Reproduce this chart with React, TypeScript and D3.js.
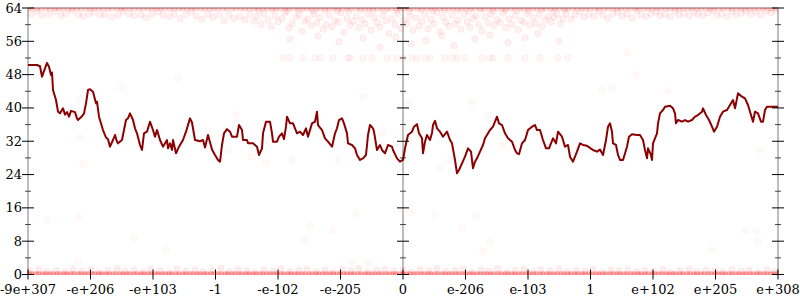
import React from 'react';
import * as d3 from 'd3';

// x positions are in "ordered float index" units: 0..750, 12 equal steps between labels
const xTickLabels = ['-9e+307', '-e+206', '-e+103', '-1', '-e-102', '-e-205', '0', 'e-206', 'e-103', '1', 'e+102', 'e+205', 'e+308'];
const xTickPos = [0, 62.5, 125, 187.5, 250, 312.5, 375, 437.5, 500, 562.5, 625, 687.5, 750];
const yMajorTicks = [0, 8, 16, 24, 32, 40, 48, 56, 64];
const yMinorTicks = [4, 12, 20, 28, 36, 44, 52, 60];

const lineX = [0, 9, 12, 14, 19, 21, 23, 24, 25, 28, 30, 32, 35, 37, 39, 41, 43, 47, 49, 50, 54, 56, 58, 60, 62, 65, 68, 69, 71, 75, 78, 80, 82, 85, 87, 89, 90, 94, 96, 98, 100, 102, 105, 107, 109, 112, 114, 116, 119, 122, 125, 127, 129, 132, 135, 139, 140, 142, 144, 145, 148, 151, 155, 158, 162, 164, 167, 172, 175, 177, 180, 184, 187, 190, 192, 194, 196, 199, 202, 204, 209, 211, 214, 215, 219, 220, 225, 229, 231, 234, 235, 238, 242, 244, 245, 249, 251, 254, 256, 258, 259, 262, 265, 269, 272, 275, 278, 280, 284, 287, 289, 290, 294, 297, 300, 304, 307, 309, 311, 314, 316, 319, 320, 324, 327, 329, 332, 335, 338, 340, 342, 345, 346, 349, 352, 354, 357, 360, 364, 365, 369, 372, 375, 377, 380, 384, 386, 389, 391, 394, 395, 397, 399, 402, 404, 405, 407, 409, 412, 415, 419, 422, 424, 427, 429, 431, 434, 437, 440, 443, 445, 447, 449, 452, 455, 457, 459, 462, 465, 469, 471, 474, 477, 480, 484, 487, 489, 491, 494, 497, 499, 500, 504, 507, 509, 512, 515, 518, 521, 525, 528, 530, 534, 537, 540, 542, 545, 549, 552, 555, 559, 562, 565, 569, 572, 575, 578, 580, 582, 584, 585, 588, 590, 592, 595, 599, 601, 604, 609, 612, 615, 617, 619, 620, 623, 624, 625, 627, 629, 630, 632, 635, 637, 642, 645, 647, 648, 650, 654, 657, 660, 664, 667, 670, 674, 675, 678, 681, 684, 686, 689, 692, 695, 699, 702, 705, 707, 710, 714, 717, 720, 723, 725, 727, 730, 733, 735, 737, 739, 742, 750];
const lineV = [50.3, 50.3, 50.0, 47.5, 50.8, 49.9, 47.9, 48.5, 44.3, 41.9, 39.1, 38.7, 39.9, 38.4, 39.0, 37.9, 39.3, 39.0, 37.5, 37.1, 38.0, 38.7, 41.1, 44.3, 44.5, 43.9, 41.1, 41.5, 37.9, 34.7, 32.9, 32.5, 30.7, 32.3, 33.5, 31.9, 31.5, 32.3, 34.7, 37.1, 37.5, 38.7, 37.1, 35.1, 33.9, 31.1, 29.9, 33.9, 34.3, 36.7, 34.7, 33.1, 34.7, 32.3, 30.7, 32.3, 30.3, 31.5, 29.9, 32.3, 29.1, 30.7, 32.3, 34.3, 37.5, 36.5, 32.3, 32.0, 32.3, 30.5, 33.5, 30.0, 28.7, 27.5, 27.1, 31.1, 33.9, 34.9, 34.3, 33.1, 33.1, 35.9, 34.7, 32.3, 32.3, 31.5, 31.5, 30.7, 28.7, 30.3, 33.9, 36.7, 36.7, 33.9, 31.9, 31.9, 33.1, 33.9, 32.5, 35.5, 37.9, 36.3, 36.3, 33.9, 34.3, 33.5, 35.1, 33.1, 36.3, 36.7, 39.1, 35.9, 34.7, 32.7, 31.9, 30.7, 33.9, 35.1, 37.1, 37.5, 36.3, 33.9, 31.5, 31.1, 30.3, 28.7, 27.5, 27.9, 28.7, 33.5, 35.9, 35.1, 34.3, 29.9, 31.1, 29.9, 29.1, 31.1, 30.7, 29.9, 27.9, 27.1, 27.5, 30.3, 33.5, 34.3, 35.5, 36.1, 33.9, 32.7, 29.1, 31.9, 33.5, 32.3, 34.0, 35.9, 36.9, 35.1, 34.3, 33.1, 34.3, 32.3, 31.5, 27.5, 24.3, 25.1, 26.7, 28.3, 30.3, 29.5, 25.5, 27.1, 27.9, 29.5, 31.1, 32.7, 33.5, 34.7, 35.5, 37.9, 36.3, 35.9, 33.9, 32.7, 31.9, 29.9, 29.1, 28.9, 31.5, 32.3, 33.9, 34.7, 35.5, 35.9, 34.7, 34.7, 32.3, 30.3, 30.3, 32.7, 31.5, 34.3, 33.1, 30.7, 31.1, 28.3, 27.1, 29.5, 31.5, 31.1, 30.9, 30.4, 29.9, 29.5, 30.0, 28.7, 32.3, 35.5, 36.3, 34.3, 31.5, 31.1, 28.7, 27.5, 27.5, 30.7, 33.1, 33.7, 33.5, 33.5, 32.3, 29.9, 27.9, 30.3, 28.7, 27.5, 31.5, 32.7, 33.9, 36.3, 38.7, 39.5, 40.3, 40.5, 39.9, 38.7, 36.3, 37.1, 36.7, 37.1, 36.7, 37.1, 37.9, 38.3, 39.1, 39.9, 38.3, 37.1, 35.5, 34.3, 35.5, 37.9, 39.1, 39.5, 40.7, 41.9, 39.9, 43.5, 42.7, 42.3, 40.7, 38.3, 36.7, 39.1, 38.7, 36.7, 36.7, 39.5, 40.3, 40.3, 40.3];

// Dense rows of samples at exactly 64 and 0
const row64X = [0, 4, 9, 13, 18, 22, 27, 31, 35, 40, 44, 49, 53, 58, 62, 66, 71, 75, 80, 84, 89, 93, 97, 102, 106, 111, 115, 120, 124, 128, 133, 137, 142, 146, 151, 155, 159, 164, 168, 173, 177, 182, 186, 190, 195, 199, 204, 208, 213, 217, 221, 226, 230, 235, 239, 244, 248, 252, 257, 261, 266, 270, 275, 279, 283, 288, 292, 297, 301, 306, 310, 314, 319, 323, 328, 332, 337, 341, 345, 350, 354, 359, 363, 368, 372, 376, 381, 385, 390, 394, 399, 403, 407, 412, 416, 421, 425, 430, 434, 438, 443, 447, 452, 456, 461, 465, 469, 474, 478, 483, 487, 492, 496, 500, 505, 509, 514, 518, 523, 527, 531, 536, 540, 545, 549, 554, 558, 562, 567, 571, 576, 580, 585, 589, 593, 598, 602, 607, 611, 616, 620, 624, 629, 633, 638, 642, 647, 651, 655, 660, 664, 669, 673, 678, 682, 686, 691, 695, 700, 704, 709, 713, 717, 722, 726, 731, 735, 740, 744, 748];
const row0X = [1, 4, 8, 11, 15, 18, 22, 25, 29, 32, 36, 39, 43, 46, 50, 53, 57, 60, 64, 67, 71, 74, 78, 81, 85, 88, 92, 95, 99, 102, 106, 109, 113, 116, 120, 123, 127, 130, 134, 137, 141, 144, 148, 151, 155, 158, 162, 165, 169, 172, 176, 179, 183, 186, 190, 193, 197, 200, 204, 207, 211, 214, 218, 221, 225, 228, 232, 235, 239, 242, 246, 249, 253, 256, 260, 263, 267, 270, 274, 277, 281, 284, 288, 291, 295, 298, 302, 305, 309, 312, 316, 319, 323, 326, 330, 333, 337, 340, 344, 347, 351, 354, 358, 361, 365, 368, 372, 375, 379, 382, 386, 389, 393, 396, 400, 403, 407, 410, 414, 417, 421, 424, 428, 431, 435, 438, 442, 445, 449, 452, 456, 459, 463, 466, 470, 473, 477, 480, 484, 487, 491, 494, 498, 501, 505, 508, 512, 515, 519, 522, 526, 529, 533, 536, 540, 543, 547, 550, 554, 557, 561, 564, 568, 571, 575, 578, 582, 585, 589, 592, 596, 599, 603, 606, 610, 613, 617, 620, 624, 627, 631, 634, 638, 641, 645, 648, 652, 655, 659, 662, 666, 669, 673, 676, 680, 683, 687, 690, 694, 697, 701, 704, 708, 711, 715, 718, 722, 725, 729, 732, 736, 739, 743, 746, 749];

const topBand: [number, number][] = [
  [3, 62.6], [9, 63.2], [14, 62.3], [21, 62.5], [27, 63.1], [33, 62.2], [38, 62.6], [44, 63.3], [50, 62.4], [55, 62.1], [61, 62.6], [66, 63.0], [72, 62.3], [77, 62.5], [84, 61.8], [90, 62.4], [95, 63.2], [101, 62.6], [106, 62.2], [113, 62.4], [118, 61.7], [124, 62.5], [130, 63.1], [135, 62.3], [141, 62.0], [146, 62.6], [152, 61.5], [158, 62.4], [163, 63.2], [168, 62.1], [174, 61.3], [180, 62.5], [185, 61.8], [191, 62.3], [196, 60.9], [201, 62.4], [206, 61.5], [212, 62.0], [217, 61.2], [222, 62.6],
  [226, 60.8], [229, 61.9], [233, 60.1], [236, 62.7], [240, 61.2], [243, 59.6], [247, 62.1], [250, 60.7], [254, 61.5], [257, 63.0], [261, 59.2], [264, 60.3], [268, 61.8], [271, 62.4], [274, 58.4], [277, 60.9], [280, 61.3], [283, 59.8], [286, 62.6], [289, 60.4], [292, 61.7], [295, 58.9], [298, 60.1], [301, 62.3], [304, 59.5], [307, 61.0], [310, 60.6], [313, 62.8], [316, 58.1], [319, 61.5], [322, 59.9], [325, 60.8], [328, 62.1], [331, 59.3], [334, 61.2], [337, 60.2], [340, 62.6], [343, 58.7], [346, 61.7], [349, 60.5], [352, 59.4], [355, 62.2], [358, 60.9], [361, 57.8], [364, 61.4], [367, 60.0], [370, 62.7], [373, 59.1], [376, 61.0], [379, 60.3], [382, 62.0], [385, 58.6], [388, 61.6], [391, 59.7], [394, 60.8], [397, 62.4], [400, 59.0], [403, 61.3], [406, 60.1], [409, 62.9], [412, 58.3], [415, 61.8], [418, 60.6], [421, 59.6], [424, 62.3], [427, 60.2], [430, 61.1], [433, 58.9], [436, 62.6], [439, 60.7], [442, 59.4], [445, 61.5], [448, 62.1], [451, 60.0], [454, 58.5], [457, 61.9], [460, 60.4], [463, 62.5], [466, 59.8], [469, 61.2], [472, 60.6], [475, 62.8], [478, 59.3], [481, 61.4], [484, 60.1], [487, 62.2], [490, 58.8], [493, 61.0], [496, 60.5], [499, 62.6], [502, 59.9], [505, 61.6], [508, 60.3], [511, 62.4], [514, 59.5], [517, 61.1], [520, 62.0], [523, 60.7], [526, 61.8], [529, 62.5], [532, 60.2], [535, 61.4], [538, 62.7],
  [231, 63.4], [245, 63.5], [259, 63.2], [272, 63.6], [285, 63.3], [297, 63.5], [309, 63.4], [321, 63.2], [333, 63.6], [345, 63.3], [357, 63.5], [369, 63.4], [381, 63.2], [393, 63.6], [405, 63.3], [417, 63.5], [429, 63.4], [441, 63.2], [453, 63.6], [465, 63.3], [477, 63.5], [489, 63.4], [501, 63.2], [513, 63.6], [525, 63.3], [537, 63.5],
  [262, 56.5], [290, 57.2], [311, 55.9], [335, 56.8], [352, 54.6], [368, 57.0], [383, 55.4], [398, 56.2], [414, 57.3], [426, 55.0], [447, 56.6], [462, 57.5], [480, 55.7], [497, 56.9], [510, 57.8], [531, 56.0],
  [543, 61.3], [547, 62.4], [552, 63.1], [556, 61.8], [561, 62.6], [566, 62.0], [571, 63.2], [575, 62.3], [580, 61.5], [585, 62.7], [590, 63.0], [594, 62.1], [599, 62.5], [604, 61.6], [609, 63.3], [613, 62.4], [618, 62.0], [623, 62.6], [628, 63.1], [632, 62.2], [637, 62.5], [642, 61.9], [647, 63.2], [651, 62.4], [656, 62.7], [661, 62.1], [666, 63.0], [670, 62.5], [675, 62.2], [680, 62.8], [685, 63.3], [689, 62.3], [694, 62.6], [699, 62.0], [704, 63.1], [708, 62.4], [713, 62.7], [718, 63.2], [723, 62.5], [728, 63.0], [733, 62.3], [738, 63.3], [743, 62.8], [748, 63.4],
];

const row52X = [255, 262, 275, 287, 292, 305, 320, 322, 335, 344, 359, 369, 375, 384, 389, 397, 402, 417, 424, 429, 437, 454, 462, 465, 480, 497, 512, 530, 540];

const bottomBand: [number, number][] = [
  [2, 0.9], [11, 1.2], [19, 0.6], [28, 1.0], [37, 0.7], [45, 1.3], [54, 0.8], [63, 1.1], [71, 0.5], [80, 1.0], [89, 1.4], [97, 0.7], [106, 1.1], [115, 0.6], [123, 1.2], [132, 0.9], [141, 0.5], [149, 1.3], [158, 0.8], [167, 1.1], [175, 0.6], [184, 1.0], [193, 1.5], [201, 0.7], [210, 1.2], [219, 0.9], [227, 0.5], [236, 1.1], [245, 0.8], [253, 1.4], [262, 0.6], [271, 1.0], [279, 1.3], [288, 0.7], [297, 1.1], [305, 0.5], [314, 1.2], [323, 0.9], [331, 1.4], [340, 0.6], [349, 1.0], [357, 1.3], [366, 0.8], [375, 1.1], [383, 0.5], [392, 1.2], [401, 0.9], [409, 1.4], [418, 0.7], [427, 1.0], [435, 1.3], [444, 0.6], [453, 1.1], [461, 0.8], [470, 1.4], [479, 0.5], [487, 1.0], [496, 1.2], [505, 0.7], [513, 1.1], [522, 0.9], [531, 1.3], [539, 0.6], [548, 1.0], [557, 0.8], [565, 1.2], [574, 0.5], [583, 1.1], [591, 0.9], [600, 1.3], [609, 0.6], [617, 1.0], [626, 0.8], [635, 1.2], [643, 0.5], [652, 1.0], [661, 1.3], [669, 0.7], [678, 1.1], [687, 0.9], [695, 0.6], [704, 1.2], [713, 0.8], [721, 1.0], [730, 0.5], [739, 1.1], [747, 0.8],
];

const scattered: [number, number][] = [
  [19, 13.3], [51, 13.6], [50, 3.2], [106, 8.8], [138, 5.9], [328, 14.5], [305, 10.7], [282, 11.6], [382, 14.8], [407, 14.3], [434, 11.2], [447, 14.0], [462, 7.8], [455, 5.6], [340, 3.0], [324, 3.0], [277, 8.3], [717, 10.7], [729, 10.4], [684, 5.9], [730, 8.0], [150, 47.2], [94, 45.0], [52, 42.1], [599, 53.2], [608, 47.9], [574, 44.3], [585, 44.8], [640, 44.1], [55, 26.5], [52, 33.0], [117, 35.2], [201, 29.9], [223, 28.2], [238, 26.8], [264, 27.5], [299, 34.0], [335, 42.6], [355, 34.0], [327, 29.9], [310, 27.5], [380, 41.2], [444, 41.4], [460, 38.3], [412, 25.6], [475, 30.9], [422, 27.5], [732, 29.9], [208, 38.3],
];

const W = 800;
const H = 300;
const left = 28;
const right = 778;
const top = 8;
const bottom = 274.5;

type Pt = [number, number];

export default function App() {
  const x = d3.scaleLinear().domain([0, 750]).range([left, right]);
  const y = d3.scaleLinear().domain([0, 64]).range([bottom, top]);
  const line = d3.line<number>().x((_, i) => x(lineX[i])).y((d) => y(d));

  const groups: { pts: Pt[]; fo: number; so: number }[] = [
    { pts: row64X.map((v) => [v, 64] as Pt), fo: 0.12, so: 0.06 },
    { pts: row0X.map((v) => [v, 0] as Pt), fo: 0.26, so: 0.04 },
    { pts: topBand, fo: 0.055, so: 0.06 },
    { pts: row52X.map((v) => [v, 52] as Pt), fo: 0.035, so: 0.05 },
    { pts: bottomBand, fo: 0.07, so: 0.05 },
    { pts: scattered, fo: 0.025, so: 0.035 },
  ];

  const yAxesX = [x(0), x(375), x(750)];
  const font = '"DejaVu Serif", serif';

  return (
    <svg width={W} height={H} style={{ position: 'absolute', left: 0, top: 0, background: '#fff' }}>
      <defs>
        <clipPath id="plot">
          <rect x={left} y={top} width={right - left} height={bottom - top + 0.5} />
        </clipPath>
      </defs>
      <line x1={left} x2={right} y1={top} y2={top} stroke="#b09090" strokeWidth={1.5} />
      {yAxesX.map((ax, i) => (
        <line key={'ax' + i} x1={ax} x2={ax} y1={top} y2={bottom} stroke="#bdbdbd" strokeWidth={2} />
      ))}
      <g clipPath="url(#plot)">
        {groups.map((g, gi) => (
          <g key={'g' + gi}>
            {g.pts.map((p, i) => (
              <circle key={i} cx={x(p[0])} cy={y(p[1])} r={3.2} fill="#ff0000" fillOpacity={g.fo} stroke="#ff0000" strokeOpacity={g.so} strokeWidth={1} />
            ))}
          </g>
        ))}
        <path d={line(lineV) || ''} fill="none" stroke="#8b0000" strokeWidth={2} strokeLinejoin="round" />
      </g>
      {yAxesX.map((ax, i) => (
        <g key={'yt' + i}>
          {yMajorTicks.map((t) => (
            <line key={'M' + t} x1={ax - 6} x2={ax + 6} y1={y(t)} y2={y(t)} stroke="#000" strokeWidth={1} />
          ))}
          {yMinorTicks.map((t) => (
            <line key={'m' + t} x1={ax - 3} x2={ax + 3} y1={y(t)} y2={y(t)} stroke="#000" strokeWidth={1} strokeOpacity={0.7} />
          ))}
        </g>
      ))}
      {yMajorTicks.map((t) => (
        <text key={'yl' + t} x={left - 6} y={y(t)} dy="0.35em" textAnchor="end" fontFamily={font} fontSize={13} fill="#000">
          {t}
        </text>
      ))}
      {xTickPos.map((p, i) => (
        <g key={'xt' + i}>
          <line x1={x(p)} x2={x(p)} y1={bottom - 5} y2={bottom + 5} stroke="#000" strokeWidth={1} />
          <text x={x(p)} y={294} textAnchor="middle" fontFamily={font} fontSize={13} fill="#000">
            {xTickLabels[i]}
          </text>
        </g>
      ))}
    </svg>
  );
}
